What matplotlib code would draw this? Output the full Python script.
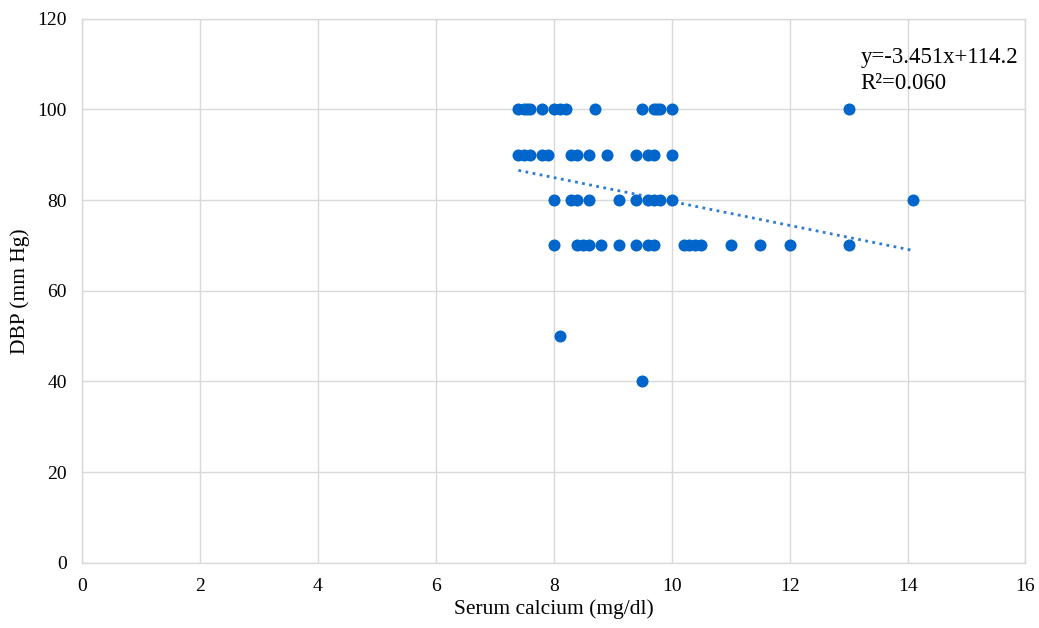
import numpy as np
import matplotlib.pyplot as plt

plt.rcParams['font.family'] = ['Liberation Serif', 'DejaVu Serif']

# serum calcium (mg/dl) grouped by DBP level
calcium_100 = [7.4, 7.5, 7.55, 7.6, 7.8, 8.0, 8.1, 8.2, 8.7, 9.5, 9.7, 9.75, 9.8, 10.0, 13.0]
calcium_90 = [7.4, 7.5, 7.6, 7.8, 7.9, 8.3, 8.4, 8.6, 8.9, 9.4, 9.6, 9.7, 10.0]
calcium_80 = [8.0, 8.3, 8.4, 8.6, 9.1, 9.4, 9.6, 9.7, 9.8, 10.0, 14.1]
calcium_70 = [8.0, 8.4, 8.5, 8.6, 8.8, 9.1, 9.4, 9.6, 9.7, 10.2, 10.3, 10.4, 10.5,
              11.0, 11.5, 12.0, 13.0]
calcium_50 = [8.1]
calcium_40 = [9.5]

# trend line as it is drawn in the picture
trend_slope = -2.64
trend_intercept = 106.1

eq_text = "y=-3.451x+114.2\nR\u00b2=0.060"

x = np.array(calcium_100 + calcium_90 + calcium_80 + calcium_70 + calcium_50 + calcium_40)
y = np.array([100] * len(calcium_100) + [90] * len(calcium_90) + [80] * len(calcium_80)
             + [70] * len(calcium_70) + [50] * len(calcium_50) + [40] * len(calcium_40))

fig, ax = plt.subplots(figsize=(10.39, 6.28), dpi=100)
fig.subplots_adjust(left=0.079, right=0.987, top=0.970, bottom=0.104)

ax.scatter(x, y, s=75, color='#0066CC', zorder=3, linewidths=0)

xs = np.array([x.min(), x.max()])
ax.plot(xs, trend_slope * xs + trend_intercept, linestyle=(0, (1, 1.6)),
        color='#2E7BD6', linewidth=2, zorder=2)

ax.text(13.2, 108.6, eq_text, fontsize=16.4, va='center', ha='left', linespacing=1.35)

ax.set_xlim(0, 16)
ax.set_ylim(0, 120)
ax.set_xticks(range(0, 17, 2))
ax.set_yticks(range(0, 121, 20))
ax.grid(True, color='#D9D9D9', linewidth=1)
ax.set_axisbelow(True)
for s in ax.spines.values():
    s.set_color('#D9D9D9')
    s.set_linewidth(1)
ax.tick_params(length=0, labelsize=14, pad=11)
ax.set_xlabel('Serum calcium (mg/dl)', fontsize=15.5)
ax.set_ylabel('DBP (mm Hg)', fontsize=15.5)
ax.xaxis.set_label_coords(0.5, -0.068)
ax.yaxis.set_label_coords(-0.055, 0.5)

plt.savefig('out.png')
